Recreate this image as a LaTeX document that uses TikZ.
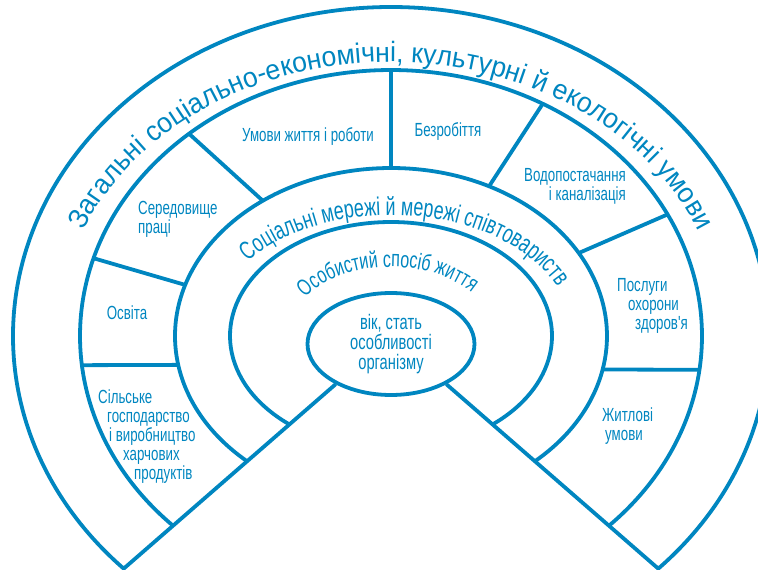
\documentclass[tikz,border=0pt]{standalone}
\usepackage{fontspec}
\setmainfont{Liberation Sans}
\newfontfamily\bandfont[FakeStretch=0.95]{Liberation Sans}
\newfontfamily\narrowfont[FakeStretch=0.7]{Liberation Sans}
\usetikzlibrary{decorations.text,shapes.geometric}
\definecolor{ringblue}{RGB}{0,134,192}

\begin{document}
\begin{tikzpicture}[x=1pt,y=1pt,
    ring/.style={draw=ringblue, line width=3.8pt},
    core/.style={ellipse, ring, minimum width=167pt, minimum height=102pt, inner sep=0pt, text=ringblue, align=center, font=\narrowfont\fontsize{21}{20}\selectfont},
    lbl/.style={text=ringblue, inner sep=0pt, align=left, anchor=west, font=\narrowfont\fontsize{19}{19}\selectfont}]
  \useasboundingbox (-391,-234) rectangle (367,336);

  % centre and the two bounding rays with the outer arc
  \node[core] (core) at (0,-8) {вік, стать\\особливості\\організму};
  \coordinate (tipL) at (225:378 and 329);
  \coordinate (tipR) at (-45:378 and 329);
  \draw[ring] (core.216) -- (tipL) arc[start angle=225, end angle=-45, x radius=378, y radius=329] -- (core.-36);

  % inner rings
  \draw[ring] (225.5:311 and 266) arc[start angle=225.5, end angle=-45.5, x radius=311, y radius=266];
  \draw[ring] (228.2:216 and 168) arc[start angle=228.2, end angle=-48.2, x radius=216, y radius=168];
  \draw[ring] (230.8:161 and 114) arc[start angle=230.8, end angle=-50.8, x radius=161, y radius=114];

  % sectors of the living and working band
  \draw[ring] (163:311 and 266) -- (162.3:216 and 168);
  \draw[ring] (186.3:311 and 266) -- (189.9:216 and 168);
  \draw[ring] (130.5:311 and 266) -- (126.4:216 and 168);
  \draw[ring] (90:311 and 266) -- (90:216 and 168);
  \draw[ring] (60.8:311 and 266) -- (63:216 and 168);
  \draw[ring] (27.2:311 and 266) -- (29.6:216 and 168);
  \draw[ring] (-7.3:311 and 266) -- (-11.5:216 and 168);

  % curved band titles
  \path[decorate, decoration={text along path, text align=center, text color=ringblue,
      text={|\bandfont\fontsize{28}{28}\selectfont|Загальні соціально-економічні, культурні й екологічні умови}}]
    (175:333 and 274) arc[start angle=175, end angle=5, x radius=333, y radius=274];
  \path[decorate, decoration={text along path, text color=ringblue,
      text={|\narrowfont\fontsize{25.5}{25.5}\selectfont|Соціальні мережі й мережі співтовариств}}]
    (142:182 and 121) arc[start angle=142, end angle=-10, x radius=182, y radius=121];
  \path[decorate, decoration={text along path, text color=ringblue,
      text={|\narrowfont\fontsize{23}{23}\selectfont|Особистий спосіб життя}}]
    (146:104 and 69) arc[start angle=146, end angle=0, x radius=104, y radius=69];

  % sector labels
  \node[lbl, anchor=center, align=center] (work) at (-83,199) {Умови життя і роботи};
  \node[lbl, anchor=center] (jobless) at (57,204) {Безробіття};
  \node[lbl, anchor=center, align=right] (water) at (184,150) {Водопостачання\\і каналізація};
  \node[lbl] (workenv) at (-253,117) {Середовище\\праці};
  \node[lbl, anchor=center] (school) at (-264,23) {Освіта};
  \node[lbl] (farming) at (-293,-101) {Сільське\\\hspace*{9pt}господарство\\\hspace*{11pt}і виробництво\\\hspace*{25pt}харчових\\\hspace*{36pt}продуктів};
  \node[lbl] (health) at (226,30) {Послуги\\\hspace*{11pt}охорони\\\hspace*{18pt}здоров'я};
  \node[lbl] (housing) at (211,-90) {Житлові\\\hspace*{3pt}умови};
\end{tikzpicture}
\end{document}
